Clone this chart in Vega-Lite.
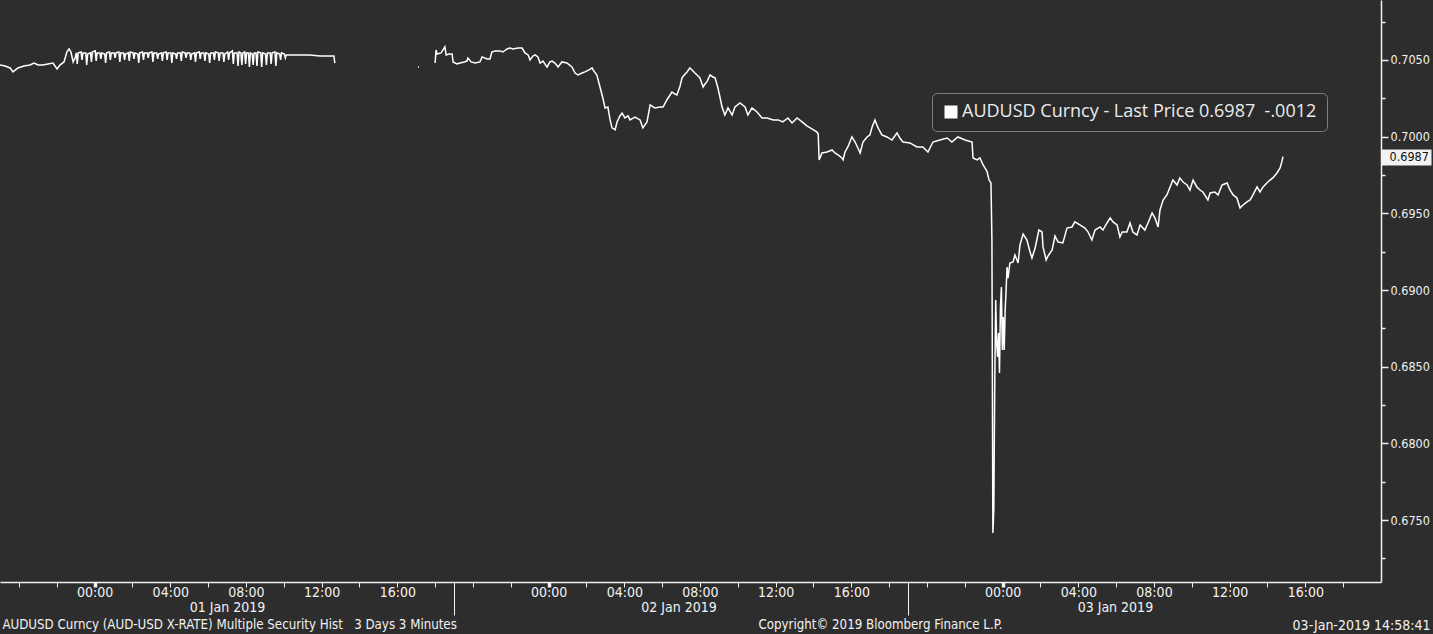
{
"$schema": "https://vega.github.io/schema/vega-lite/v6.json",
"width": 1381, "height": 582,
"autosize": {"type": "none"},
"padding": {"left": 0, "top": 0, "right": 52, "bottom": 52},
"background": "#2d2d2d",
"config": {"view": {"stroke": null}, "font": "Liberation Sans Narrow, DejaVu Sans Condensed, sans-serif"},
"data": {"format": {"parse": {"t": "utc:'%Y-%m-%d %H:%M'"}}, "values": [
{"t":"2018-12-31 19:00","v":0.70467,"s":1},{"t":"2018-12-31 19:16","v":0.70461,"s":1},{"t":"2018-12-31 19:32","v":0.70448,"s":1},{"t":"2018-12-31 19:41","v":0.70422,"s":1},{"t":"2018-12-31 19:57","v":0.70448,"s":1},{"t":"2018-12-31 20:16","v":0.70461,"s":1},{"t":"2018-12-31 20:35","v":0.70467,"s":1},{"t":"2018-12-31 20:48","v":0.7048,"s":1},{"t":"2018-12-31 21:01","v":0.70467,"s":1},{"t":"2018-12-31 21:16","v":0.70467,"s":1},{"t":"2018-12-31 21:32","v":0.70474,"s":1},{"t":"2018-12-31 21:48","v":0.7048,"s":1},{"t":"2018-12-31 22:01","v":0.70441,"s":1},{"t":"2018-12-31 22:10","v":0.70467,"s":1},{"t":"2018-12-31 22:23","v":0.70487,"s":1},{"t":"2018-12-31 22:32","v":0.70552,"s":1},{"t":"2018-12-31 22:39","v":0.70572,"s":1},{"t":"2018-12-31 22:45","v":0.70552,"s":1},{"t":"2018-12-31 22:52","v":0.70487,"s":1},{"t":"2018-12-31 22:58","v":0.70513,"s":1},
{"t":"2018-12-31 23:02","v":0.70546,"s":1},{"t":"2018-12-31 23:05","v":0.70474,"s":1},{"t":"2018-12-31 23:08","v":0.70546,"s":1},{"t":"2018-12-31 23:17","v":0.70552,"s":1},{"t":"2018-12-31 23:20","v":0.705,"s":1},{"t":"2018-12-31 23:23","v":0.70546,"s":1},{"t":"2018-12-31 23:32","v":0.70546,"s":1},{"t":"2018-12-31 23:35","v":0.70467,"s":1},{"t":"2018-12-31 23:38","v":0.70539,"s":1},{"t":"2018-12-31 23:47","v":0.70546,"s":1},{"t":"2018-12-31 23:50","v":0.70487,"s":1},{"t":"2018-12-31 23:53","v":0.70552,"s":1},
{"t":"2019-01-01 00:02","v":0.70559,"s":1},{"t":"2019-01-01 00:05","v":0.70493,"s":1},{"t":"2019-01-01 00:08","v":0.70546,"s":1},{"t":"2019-01-01 00:17","v":0.70546,"s":1},{"t":"2019-01-01 00:20","v":0.70507,"s":1},{"t":"2019-01-01 00:23","v":0.70546,"s":1},{"t":"2019-01-01 00:32","v":0.70539,"s":1},{"t":"2019-01-01 00:35","v":0.7048,"s":1},{"t":"2019-01-01 00:38","v":0.70546,"s":1},{"t":"2019-01-01 00:47","v":0.70552,"s":1},{"t":"2019-01-01 00:50","v":0.705,"s":1},{"t":"2019-01-01 00:53","v":0.70546,"s":1},
{"t":"2019-01-01 01:02","v":0.70546,"s":1},{"t":"2019-01-01 01:05","v":0.70513,"s":1},{"t":"2019-01-01 01:08","v":0.70546,"s":1},{"t":"2019-01-01 01:17","v":0.70552,"s":1},{"t":"2019-01-01 01:20","v":0.70487,"s":1},{"t":"2019-01-01 01:23","v":0.70546,"s":1},{"t":"2019-01-01 01:32","v":0.70546,"s":1},{"t":"2019-01-01 01:35","v":0.705,"s":1},{"t":"2019-01-01 01:38","v":0.70539,"s":1},{"t":"2019-01-01 01:47","v":0.70546,"s":1},{"t":"2019-01-01 01:50","v":0.70493,"s":1},{"t":"2019-01-01 01:53","v":0.70552,"s":1},
{"t":"2019-01-01 02:02","v":0.70546,"s":1},{"t":"2019-01-01 02:05","v":0.70507,"s":1},{"t":"2019-01-01 02:08","v":0.70546,"s":1},{"t":"2019-01-01 02:17","v":0.70539,"s":1},{"t":"2019-01-01 02:20","v":0.7048,"s":1},{"t":"2019-01-01 02:23","v":0.70546,"s":1},{"t":"2019-01-01 02:32","v":0.70552,"s":1},{"t":"2019-01-01 02:35","v":0.705,"s":1},{"t":"2019-01-01 02:38","v":0.70546,"s":1},{"t":"2019-01-01 02:47","v":0.70546,"s":1},{"t":"2019-01-01 02:50","v":0.70513,"s":1},{"t":"2019-01-01 02:53","v":0.70546,"s":1},
{"t":"2019-01-01 03:02","v":0.70552,"s":1},{"t":"2019-01-01 03:05","v":0.70487,"s":1},{"t":"2019-01-01 03:08","v":0.70546,"s":1},{"t":"2019-01-01 03:17","v":0.70546,"s":1},{"t":"2019-01-01 03:20","v":0.70507,"s":1},{"t":"2019-01-01 03:23","v":0.70539,"s":1},{"t":"2019-01-01 03:32","v":0.70546,"s":1},{"t":"2019-01-01 03:35","v":0.70493,"s":1},{"t":"2019-01-01 03:38","v":0.70546,"s":1},{"t":"2019-01-01 03:47","v":0.70552,"s":1},{"t":"2019-01-01 03:50","v":0.705,"s":1},{"t":"2019-01-01 03:53","v":0.70546,"s":1},
{"t":"2019-01-01 04:02","v":0.70546,"s":1},{"t":"2019-01-01 04:05","v":0.7048,"s":1},{"t":"2019-01-01 04:08","v":0.70546,"s":1},{"t":"2019-01-01 04:17","v":0.70539,"s":1},{"t":"2019-01-01 04:20","v":0.70507,"s":1},{"t":"2019-01-01 04:23","v":0.70546,"s":1},{"t":"2019-01-01 04:32","v":0.70546,"s":1},{"t":"2019-01-01 04:35","v":0.70493,"s":1},{"t":"2019-01-01 04:38","v":0.70552,"s":1},{"t":"2019-01-01 04:47","v":0.70546,"s":1},{"t":"2019-01-01 04:50","v":0.70513,"s":1},{"t":"2019-01-01 04:53","v":0.70546,"s":1},
{"t":"2019-01-01 05:02","v":0.70546,"s":1},{"t":"2019-01-01 05:05","v":0.705,"s":1},{"t":"2019-01-01 05:08","v":0.70539,"s":1},{"t":"2019-01-01 05:17","v":0.70546,"s":1},{"t":"2019-01-01 05:20","v":0.70487,"s":1},{"t":"2019-01-01 05:23","v":0.70546,"s":1},{"t":"2019-01-01 05:32","v":0.70552,"s":1},{"t":"2019-01-01 05:35","v":0.70507,"s":1},{"t":"2019-01-01 05:38","v":0.70546,"s":1},{"t":"2019-01-01 05:47","v":0.70546,"s":1},{"t":"2019-01-01 05:50","v":0.70493,"s":1},{"t":"2019-01-01 05:53","v":0.70546,"s":1},
{"t":"2019-01-01 06:02","v":0.70539,"s":1},{"t":"2019-01-01 06:05","v":0.7048,"s":1},{"t":"2019-01-01 06:08","v":0.70546,"s":1},{"t":"2019-01-01 06:17","v":0.70546,"s":1},{"t":"2019-01-01 06:20","v":0.705,"s":1},{"t":"2019-01-01 06:23","v":0.70552,"s":1},{"t":"2019-01-01 06:32","v":0.70546,"s":1},{"t":"2019-01-01 06:35","v":0.70493,"s":1},{"t":"2019-01-01 06:38","v":0.70546,"s":1},{"t":"2019-01-01 06:47","v":0.70546,"s":1},{"t":"2019-01-01 06:50","v":0.70487,"s":1},{"t":"2019-01-01 06:53","v":0.70539,"s":1},
{"t":"2019-01-01 07:02","v":0.70552,"s":1},{"t":"2019-01-01 07:05","v":0.705,"s":1},{"t":"2019-01-01 07:08","v":0.70546,"s":1},{"t":"2019-01-01 07:17","v":0.70559,"s":1},{"t":"2019-01-01 07:20","v":0.70474,"s":1},{"t":"2019-01-01 07:23","v":0.70546,"s":1},{"t":"2019-01-01 07:32","v":0.70546,"s":1},{"t":"2019-01-01 07:35","v":0.70461,"s":1},{"t":"2019-01-01 07:38","v":0.70552,"s":1},{"t":"2019-01-01 07:44","v":0.70546,"s":1},{"t":"2019-01-01 07:47","v":0.70467,"s":1},{"t":"2019-01-01 07:50","v":0.70546,"s":1},{"t":"2019-01-01 07:56","v":0.70552,"s":1},{"t":"2019-01-01 07:59","v":0.70474,"s":1},{"t":"2019-01-01 08:02","v":0.70546,"s":1},
{"t":"2019-01-01 08:08","v":0.70546,"s":1},{"t":"2019-01-01 08:11","v":0.70454,"s":1},{"t":"2019-01-01 08:14","v":0.70546,"s":1},{"t":"2019-01-01 08:20","v":0.70539,"s":1},{"t":"2019-01-01 08:23","v":0.70467,"s":1},{"t":"2019-01-01 08:26","v":0.70546,"s":1},{"t":"2019-01-01 08:32","v":0.70546,"s":1},{"t":"2019-01-01 08:35","v":0.70461,"s":1},{"t":"2019-01-01 08:38","v":0.70552,"s":1},{"t":"2019-01-01 08:47","v":0.70546,"s":1},{"t":"2019-01-01 08:50","v":0.70454,"s":1},{"t":"2019-01-01 08:53","v":0.70546,"s":1},
{"t":"2019-01-01 09:02","v":0.70539,"s":1},{"t":"2019-01-01 09:05","v":0.70467,"s":1},{"t":"2019-01-01 09:08","v":0.70546,"s":1},{"t":"2019-01-01 09:17","v":0.70546,"s":1},{"t":"2019-01-01 09:20","v":0.70474,"s":1},{"t":"2019-01-01 09:23","v":0.70546,"s":1},{"t":"2019-01-01 09:32","v":0.70552,"s":1},{"t":"2019-01-01 09:35","v":0.70461,"s":1},{"t":"2019-01-01 09:38","v":0.70546,"s":1},{"t":"2019-01-01 09:47","v":0.70539,"s":1},{"t":"2019-01-01 09:50","v":0.705,"s":1},{"t":"2019-01-01 09:53","v":0.70546,"s":1},
{"t":"2019-01-01 10:02","v":0.70539,"s":1},{"t":"2019-01-01 10:05","v":0.70513,"s":1},{"t":"2019-01-01 10:08","v":0.70533,"s":1},{"t":"2019-01-01 10:51","v":0.70533,"s":1},{"t":"2019-01-01 11:23","v":0.70533,"s":1},{"t":"2019-01-01 11:55","v":0.70526,"s":1},{"t":"2019-01-01 12:39","v":0.70526,"s":1},{"t":"2019-01-01 12:42","v":0.7048,"s":1},
{"t":"2019-01-01 17:06","v":0.70454,"s":2},{"t":"2019-01-01 17:09","v":0.70454,"s":2},
{"t":"2019-01-01 18:00","v":0.7048,"s":3},{"t":"2019-01-01 18:03","v":0.70565,"s":3},{"t":"2019-01-01 18:06","v":0.70539,"s":3},{"t":"2019-01-01 18:19","v":0.70546,"s":3},{"t":"2019-01-01 18:31","v":0.70585,"s":3},{"t":"2019-01-01 18:35","v":0.70533,"s":3},{"t":"2019-01-01 18:44","v":0.70539,"s":3},{"t":"2019-01-01 18:54","v":0.70539,"s":3},{"t":"2019-01-01 18:57","v":0.70487,"s":3},{"t":"2019-01-01 19:09","v":0.70474,"s":3},{"t":"2019-01-01 19:19","v":0.7048,"s":3},{"t":"2019-01-01 19:32","v":0.70487,"s":3},{"t":"2019-01-01 19:41","v":0.70493,"s":3},{"t":"2019-01-01 19:44","v":0.70513,"s":3},{"t":"2019-01-01 19:54","v":0.70487,"s":3},{"t":"2019-01-01 20:07","v":0.7048,"s":3},{"t":"2019-01-01 20:22","v":0.70487,"s":3},{"t":"2019-01-01 20:29","v":0.7052,"s":3},{"t":"2019-01-01 20:45","v":0.70507,"s":3},{"t":"2019-01-01 20:54","v":0.70507,"s":3},{"t":"2019-01-01 21:00","v":0.70552,"s":3},{"t":"2019-01-01 21:10","v":0.70559,"s":3},{"t":"2019-01-01 21:26","v":0.70559,"s":3},{"t":"2019-01-01 21:35","v":0.70552,"s":3},{"t":"2019-01-01 21:48","v":0.70572,"s":3},{"t":"2019-01-01 21:57","v":0.70578,"s":3},{"t":"2019-01-01 22:07","v":0.70572,"s":3},{"t":"2019-01-01 22:23","v":0.70578,"s":3},{"t":"2019-01-01 22:36","v":0.70578,"s":3},{"t":"2019-01-01 22:45","v":0.70546,"s":3},{"t":"2019-01-01 22:55","v":0.70533,"s":3},{"t":"2019-01-01 23:01","v":0.705,"s":3},{"t":"2019-01-01 23:10","v":0.70526,"s":3},{"t":"2019-01-01 23:17","v":0.70533,"s":3},{"t":"2019-01-01 23:26","v":0.7052,"s":3},{"t":"2019-01-01 23:33","v":0.7048,"s":3},{"t":"2019-01-01 23:42","v":0.70493,"s":3},{"t":"2019-01-01 23:55","v":0.70454,"s":3},
{"t":"2019-01-02 00:04","v":0.70487,"s":3},{"t":"2019-01-02 00:11","v":0.70493,"s":3},{"t":"2019-01-02 00:20","v":0.7048,"s":3},{"t":"2019-01-02 00:30","v":0.70454,"s":3},{"t":"2019-01-02 00:42","v":0.70487,"s":3},{"t":"2019-01-02 00:58","v":0.7048,"s":3},{"t":"2019-01-02 01:14","v":0.70454,"s":3},{"t":"2019-01-02 01:24","v":0.70415,"s":3},{"t":"2019-01-02 01:33","v":0.70402,"s":3},{"t":"2019-01-02 01:46","v":0.70415,"s":3},{"t":"2019-01-02 01:55","v":0.70422,"s":3},{"t":"2019-01-02 02:08","v":0.70435,"s":3},{"t":"2019-01-02 02:18","v":0.70448,"s":3},{"t":"2019-01-02 02:21","v":0.70435,"s":3},{"t":"2019-01-02 02:33","v":0.70402,"s":3},{"t":"2019-01-02 02:43","v":0.70324,"s":3},{"t":"2019-01-02 02:52","v":0.70252,"s":3},{"t":"2019-01-02 02:59","v":0.70187,"s":3},{"t":"2019-01-02 03:08","v":0.70193,"s":3},{"t":"2019-01-02 03:15","v":0.70109,"s":3},{"t":"2019-01-02 03:21","v":0.70057,"s":3},{"t":"2019-01-02 03:31","v":0.70044,"s":3},{"t":"2019-01-02 03:37","v":0.70096,"s":3},{"t":"2019-01-02 03:46","v":0.70135,"s":3},{"t":"2019-01-02 03:53","v":0.70154,"s":3},{"t":"2019-01-02 04:02","v":0.70122,"s":3},{"t":"2019-01-02 04:12","v":0.70135,"s":3},{"t":"2019-01-02 04:18","v":0.70109,"s":3},{"t":"2019-01-02 04:34","v":0.70128,"s":3},{"t":"2019-01-02 04:50","v":0.70109,"s":3},{"t":"2019-01-02 04:59","v":0.70057,"s":3},{"t":"2019-01-02 05:12","v":0.70096,"s":3},{"t":"2019-01-02 05:22","v":0.70207,"s":3},{"t":"2019-01-02 05:37","v":0.70187,"s":3},{"t":"2019-01-02 05:53","v":0.70193,"s":3},{"t":"2019-01-02 06:03","v":0.70193,"s":3},{"t":"2019-01-02 06:15","v":0.70239,"s":3},{"t":"2019-01-02 06:31","v":0.70291,"s":3},{"t":"2019-01-02 06:41","v":0.70278,"s":3},{"t":"2019-01-02 06:47","v":0.70272,"s":3},{"t":"2019-01-02 06:57","v":0.7033,"s":3},{"t":"2019-01-02 07:03","v":0.70383,"s":3},{"t":"2019-01-02 07:13","v":0.70409,"s":3},{"t":"2019-01-02 07:19","v":0.70422,"s":3},{"t":"2019-01-02 07:28","v":0.70448,"s":3},{"t":"2019-01-02 07:38","v":0.70428,"s":3},{"t":"2019-01-02 07:44","v":0.70415,"s":3},{"t":"2019-01-02 07:54","v":0.70396,"s":3},{"t":"2019-01-02 08:00","v":0.70383,"s":3},{"t":"2019-01-02 08:10","v":0.70324,"s":3},{"t":"2019-01-02 08:16","v":0.70343,"s":3},{"t":"2019-01-02 08:22","v":0.70357,"s":3},{"t":"2019-01-02 08:32","v":0.70402,"s":3},{"t":"2019-01-02 08:41","v":0.70389,"s":3},{"t":"2019-01-02 08:48","v":0.70383,"s":3},{"t":"2019-01-02 08:57","v":0.70317,"s":3},{"t":"2019-01-02 09:04","v":0.70252,"s":3},{"t":"2019-01-02 09:10","v":0.70193,"s":3},{"t":"2019-01-02 09:19","v":0.70141,"s":3},{"t":"2019-01-02 09:29","v":0.70187,"s":3},{"t":"2019-01-02 09:42","v":0.70141,"s":3},{"t":"2019-01-02 09:51","v":0.70193,"s":3},{"t":"2019-01-02 10:07","v":0.7022,"s":3},{"t":"2019-01-02 10:23","v":0.70193,"s":3},{"t":"2019-01-02 10:32","v":0.70141,"s":3},{"t":"2019-01-02 10:45","v":0.70187,"s":3},{"t":"2019-01-02 11:01","v":0.70161,"s":3},{"t":"2019-01-02 11:17","v":0.70122,"s":3},{"t":"2019-01-02 11:33","v":0.70122,"s":3},{"t":"2019-01-02 11:52","v":0.70109,"s":3},{"t":"2019-01-02 12:08","v":0.70109,"s":3},{"t":"2019-01-02 12:23","v":0.70096,"s":3},{"t":"2019-01-02 12:39","v":0.70122,"s":3},{"t":"2019-01-02 12:52","v":0.70089,"s":3},{"t":"2019-01-02 13:08","v":0.70122,"s":3},{"t":"2019-01-02 13:24","v":0.70096,"s":3},{"t":"2019-01-02 13:39","v":0.7007,"s":3},{"t":"2019-01-02 13:55","v":0.7005,"s":3},{"t":"2019-01-02 14:11","v":0.7003,"s":3},{"t":"2019-01-02 14:15","v":0.70017,"s":3},{"t":"2019-01-02 14:18","v":0.69848,"s":3},{"t":"2019-01-02 14:27","v":0.69894,"s":3},{"t":"2019-01-02 14:43","v":0.699,"s":3},{"t":"2019-01-02 14:59","v":0.69913,"s":3},{"t":"2019-01-02 15:08","v":0.69894,"s":3},{"t":"2019-01-02 15:18","v":0.69881,"s":3},{"t":"2019-01-02 15:30","v":0.69861,"s":3},{"t":"2019-01-02 15:34","v":0.69848,"s":3},{"t":"2019-01-02 15:40","v":0.699,"s":3},{"t":"2019-01-02 15:49","v":0.69933,"s":3},{"t":"2019-01-02 16:02","v":0.69998,"s":3},{"t":"2019-01-02 16:12","v":0.69965,"s":3},{"t":"2019-01-02 16:21","v":0.69926,"s":3},{"t":"2019-01-02 16:28","v":0.69894,"s":3},{"t":"2019-01-02 16:37","v":0.69965,"s":3},{"t":"2019-01-02 16:50","v":0.69998,"s":3},{"t":"2019-01-02 16:59","v":0.70011,"s":3},{"t":"2019-01-02 17:06","v":0.70063,"s":3},{"t":"2019-01-02 17:15","v":0.70109,"s":3},{"t":"2019-01-02 17:25","v":0.70057,"s":3},{"t":"2019-01-02 17:37","v":0.70011,"s":3},{"t":"2019-01-02 17:53","v":0.69998,"s":3},{"t":"2019-01-02 18:09","v":0.69978,"s":3},{"t":"2019-01-02 18:25","v":0.70024,"s":3},{"t":"2019-01-02 18:34","v":0.69991,"s":3},{"t":"2019-01-02 18:44","v":0.69965,"s":3},{"t":"2019-01-02 19:06","v":0.69959,"s":3},{"t":"2019-01-02 19:28","v":0.69933,"s":3},{"t":"2019-01-02 19:47","v":0.69933,"s":3},{"t":"2019-01-02 20:03","v":0.699,"s":3},{"t":"2019-01-02 20:19","v":0.69965,"s":3},{"t":"2019-01-02 20:41","v":0.69978,"s":3},{"t":"2019-01-02 21:04","v":0.69991,"s":3},{"t":"2019-01-02 21:19","v":0.69965,"s":3},{"t":"2019-01-02 21:38","v":0.69998,"s":3},{"t":"2019-01-02 22:01","v":0.69978,"s":3},{"t":"2019-01-02 22:23","v":0.69965,"s":3},{"t":"2019-01-02 22:26","v":0.69861,"s":3},{"t":"2019-01-02 22:39","v":0.69848,"s":3},{"t":"2019-01-02 22:48","v":0.69861,"s":3},{"t":"2019-01-02 22:58","v":0.69815,"s":3},{"t":"2019-01-02 23:10","v":0.69776,"s":3},{"t":"2019-01-02 23:17","v":0.69717,"s":3},{"t":"2019-01-02 23:23","v":0.69698,"s":3},{"t":"2019-01-02 23:26","v":0.69326,"s":3},{"t":"2019-01-02 23:29","v":0.67416,"s":3},{"t":"2019-01-02 23:32","v":0.67566,"s":3},{"t":"2019-01-02 23:35","v":0.68394,"s":3},{"t":"2019-01-02 23:38","v":0.68935,"s":3},{"t":"2019-01-02 23:41","v":0.68655,"s":3},{"t":"2019-01-02 23:44","v":0.68563,"s":3},{"t":"2019-01-02 23:47","v":0.6872,"s":3},{"t":"2019-01-02 23:50","v":0.68459,"s":3},{"t":"2019-01-02 23:53","v":0.68889,"s":3},{"t":"2019-01-02 23:56","v":0.6902,"s":3},{"t":"2019-01-02 23:59","v":0.68609,"s":3},
{"t":"2019-01-03 00:02","v":0.68824,"s":3},{"t":"2019-01-03 00:05","v":0.68609,"s":3},{"t":"2019-01-03 00:08","v":0.6887,"s":3},{"t":"2019-01-03 00:11","v":0.69,"s":3},{"t":"2019-01-03 00:14","v":0.6915,"s":3},{"t":"2019-01-03 00:17","v":0.69078,"s":3},{"t":"2019-01-03 00:23","v":0.69176,"s":3},{"t":"2019-01-03 00:33","v":0.69183,"s":3},{"t":"2019-01-03 00:39","v":0.69228,"s":3},{"t":"2019-01-03 00:49","v":0.69176,"s":3},{"t":"2019-01-03 00:55","v":0.69294,"s":3},{"t":"2019-01-03 01:05","v":0.69365,"s":3},{"t":"2019-01-03 01:17","v":0.69326,"s":3},{"t":"2019-01-03 01:27","v":0.69248,"s":3},{"t":"2019-01-03 01:33","v":0.69209,"s":3},{"t":"2019-01-03 01:43","v":0.69274,"s":3},{"t":"2019-01-03 01:55","v":0.69391,"s":3},{"t":"2019-01-03 02:05","v":0.69378,"s":3},{"t":"2019-01-03 02:08","v":0.69281,"s":3},{"t":"2019-01-03 02:18","v":0.69196,"s":3},{"t":"2019-01-03 02:24","v":0.69222,"s":3},{"t":"2019-01-03 02:37","v":0.69261,"s":3},{"t":"2019-01-03 02:46","v":0.69352,"s":3},{"t":"2019-01-03 02:56","v":0.69313,"s":3},{"t":"2019-01-03 03:11","v":0.69307,"s":3},{"t":"2019-01-03 03:24","v":0.69404,"s":3},{"t":"2019-01-03 03:40","v":0.69411,"s":3},{"t":"2019-01-03 03:49","v":0.69444,"s":3},{"t":"2019-01-03 04:05","v":0.69424,"s":3},{"t":"2019-01-03 04:21","v":0.69404,"s":3},{"t":"2019-01-03 04:31","v":0.69378,"s":3},{"t":"2019-01-03 04:43","v":0.69326,"s":3},{"t":"2019-01-03 04:53","v":0.69391,"s":3},{"t":"2019-01-03 05:09","v":0.69411,"s":3},{"t":"2019-01-03 05:18","v":0.69391,"s":3},{"t":"2019-01-03 05:31","v":0.69437,"s":3},{"t":"2019-01-03 05:41","v":0.6947,"s":3},{"t":"2019-01-03 05:50","v":0.69444,"s":3},{"t":"2019-01-03 06:03","v":0.69424,"s":3},{"t":"2019-01-03 06:12","v":0.69346,"s":3},{"t":"2019-01-03 06:19","v":0.69378,"s":3},{"t":"2019-01-03 06:34","v":0.69378,"s":3},{"t":"2019-01-03 06:44","v":0.69437,"s":3},{"t":"2019-01-03 06:53","v":0.69378,"s":3},{"t":"2019-01-03 07:06","v":0.69359,"s":3},{"t":"2019-01-03 07:16","v":0.69424,"s":3},{"t":"2019-01-03 07:31","v":0.69391,"s":3},{"t":"2019-01-03 07:41","v":0.69437,"s":3},{"t":"2019-01-03 07:54","v":0.69502,"s":3},{"t":"2019-01-03 08:03","v":0.6947,"s":3},{"t":"2019-01-03 08:13","v":0.69411,"s":3},{"t":"2019-01-03 08:19","v":0.69522,"s":3},{"t":"2019-01-03 08:29","v":0.69587,"s":3},{"t":"2019-01-03 08:41","v":0.6962,"s":3},{"t":"2019-01-03 08:51","v":0.69672,"s":3},{"t":"2019-01-03 09:00","v":0.69717,"s":3},{"t":"2019-01-03 09:13","v":0.69685,"s":3},{"t":"2019-01-03 09:22","v":0.69731,"s":3},{"t":"2019-01-03 09:32","v":0.69704,"s":3},{"t":"2019-01-03 09:45","v":0.69685,"s":3},{"t":"2019-01-03 09:54","v":0.69652,"s":3},{"t":"2019-01-03 10:04","v":0.69717,"s":3},{"t":"2019-01-03 10:16","v":0.69672,"s":3},{"t":"2019-01-03 10:26","v":0.69652,"s":3},{"t":"2019-01-03 10:35","v":0.69639,"s":3},{"t":"2019-01-03 10:51","v":0.69587,"s":3},{"t":"2019-01-03 10:58","v":0.69633,"s":3},{"t":"2019-01-03 11:13","v":0.69639,"s":3},{"t":"2019-01-03 11:23","v":0.6962,"s":3},{"t":"2019-01-03 11:36","v":0.69685,"s":3},{"t":"2019-01-03 11:52","v":0.69698,"s":3},{"t":"2019-01-03 12:01","v":0.69652,"s":3},{"t":"2019-01-03 12:11","v":0.6962,"s":3},{"t":"2019-01-03 12:23","v":0.696,"s":3},{"t":"2019-01-03 12:33","v":0.69535,"s":3},{"t":"2019-01-03 12:42","v":0.69554,"s":3},{"t":"2019-01-03 12:55","v":0.69574,"s":3},{"t":"2019-01-03 13:05","v":0.69587,"s":3},{"t":"2019-01-03 13:14","v":0.6962,"s":3},{"t":"2019-01-03 13:27","v":0.69672,"s":3},{"t":"2019-01-03 13:36","v":0.69639,"s":3},{"t":"2019-01-03 13:46","v":0.69672,"s":3},{"t":"2019-01-03 13:58","v":0.69698,"s":3},{"t":"2019-01-03 14:08","v":0.69717,"s":3},{"t":"2019-01-03 14:17","v":0.69731,"s":3},{"t":"2019-01-03 14:30","v":0.69763,"s":3},{"t":"2019-01-03 14:40","v":0.69796,"s":3},{"t":"2019-01-03 14:46","v":0.6984,"s":3},{"t":"2019-01-03 14:49","v":0.6987,"s":3}
]},
"mark": {"type": "line", "strokeWidth": 1.5, "clip": true},
"encoding": {
  "x": {"field": "t", "type": "temporal",
    "scale": {"type": "utc", "domain": [1546282800000, 1546545600000]},
    "axis": {
      "title": null, "grid": false, "labelAngle": 0,
      "values": [1546286400000,1546293600000,1546300800000,1546308000000,1546315200000,1546322400000,1546329600000,1546336800000,1546344000000,1546351200000,1546358400000,1546365600000,1546372800000,1546380000000,1546387200000,1546394400000,1546401600000,1546408800000,1546416000000,1546423200000,1546430400000,1546437600000,1546444800000,1546452000000,1546459200000,1546466400000,1546473600000,1546480800000,1546488000000,1546495200000,1546502400000,1546509600000,1546516800000,1546524000000,1546531200000,1546538400000,1546369200000,1546455600000,1546326001000,1546411921000,1546494961000,1546283162000,1546450263000,1546528684000],
      "labelExpr": "utcseconds(datum.value) == 1 ? utcFormat(datum.value, '%d %b %Y') : utcseconds(datum.value) == 2 ? 'AUDUSD Curncy (AUD-USD X-RATE) Multiple Security Hist\u00a0\u00a0 3 Days 3 Minutes' : utcseconds(datum.value) == 3 ? 'Copyright\u00a9 2019 Bloomberg Finance L.P.' : utcseconds(datum.value) == 4 ? '03-Jan-2019 14:58:41' : (utcminutes(datum.value) == 0 && utchours(datum.value) % 4 == 0 && utchours(datum.value) < 20) ? utcFormat(datum.value, '%H:%M') : ''",
      "labelOverlap": false, "labelFlush": false, "labelBound": false, "labelLimit": 0,
      "labelAlign": {"condition": {"test": "utcseconds(datum.value) == 2 || utcseconds(datum.value) == 4", "value": "left"}, "value": "center"},
      "labelBaseline": "top",
      "labelPadding": {"condition": [{"test": "utcseconds(datum.value) == 1", "value": 13}, {"test": "utcseconds(datum.value) >= 2", "value": 31}], "value": -2},
      "labelFontSize": {"condition": {"test": "utcseconds(datum.value) == 2 || utcseconds(datum.value) == 3", "value": 13.2}, "value": 14},
      "labelColor": "#f2f2f2",
      "tickSize": {"condition": {"test": "utchours(datum.value) == 19 && utcminutes(datum.value) == 0 && utcseconds(datum.value) == 0", "value": 33}, "value": 5},
      "tickOpacity": {"condition": {"test": "utcseconds(datum.value) > 0", "value": 0}, "value": 1},
      "tickWidth": {"condition": {"test": "utchours(datum.value) == 0 && utcminutes(datum.value) == 0 && utcseconds(datum.value) == 0", "value": 3.5}, "value": 1},
      "tickColor": "#f2f2f2", "domainColor": "#f2f2f2", "domainWidth": 1.5
    }},
  "y": {"field": "v", "type": "quantitative",
    "scale": {"domain": [0.67096, 0.70891], "nice": false, "zero": false},
    "axis": {
      "orient": "right", "title": null, "grid": false,
      "values": [0.6725,0.675,0.6775,0.68,0.6825,0.685,0.6875,0.69,0.6925,0.695,0.6975,0.6987,0.7,0.7025,0.705,0.7075],
      "labelExpr": "round(datum.value*10000) % 50 == 25 ? '' : format(datum.value, '.4f')",
      "labelOverlap": false, "labelFlush": false, "labelBound": false,
      "labelFontSize": 12.5,
      "labelColor": {"condition": {"test": "round(datum.value*10000) == 6987", "value": "#111111"}, "value": "#f2f2f2"},
      "labelPadding": {"condition": {"test": "round(datum.value*10000) == 6987", "value": -42}, "value": 2},
      "tickSize": {"condition": [{"test": "round(datum.value*10000) == 6987", "value": 50}, {"test": "round(datum.value*10000) % 50 == 25", "value": 4}], "value": 7},
      "tickWidth": {"condition": {"test": "round(datum.value*10000) == 6987", "value": 16}, "value": 1.5},
      "tickColor": "#f2f2f2", "tickCap": "butt",
      "domainColor": "#f2f2f2", "domainWidth": 1.5
    }},
  "detail": {"field": "s"},
  "color": {"datum": "AUDUSD Curncy - Last Price 0.6987\u00a0 -.0012", "type": "nominal",
    "scale": {"range": ["#ffffff"]},
    "legend": {"orient": "none", "legendX": 932, "legendY": 93, "title": null,
      "symbolType": "square", "symbolSize": 169, "symbolFillColor": "#ffffff", "symbolStrokeWidth": 0,
      "labelColor": "#ececec", "labelFont": "Open Sans", "labelFontSize": 18, "labelLimit": 0, "labelOffset": 2,
      "padding": 10, "strokeColor": "#808080", "fillColor": "#2a2a2a", "cornerRadius": 5,
      "encode": {"symbols": {"update": {"fill": {"value": "#ffffff"}, "shape": {"value": "square"}, "strokeWidth": {"value": 0}}}}}
  }
}
}
